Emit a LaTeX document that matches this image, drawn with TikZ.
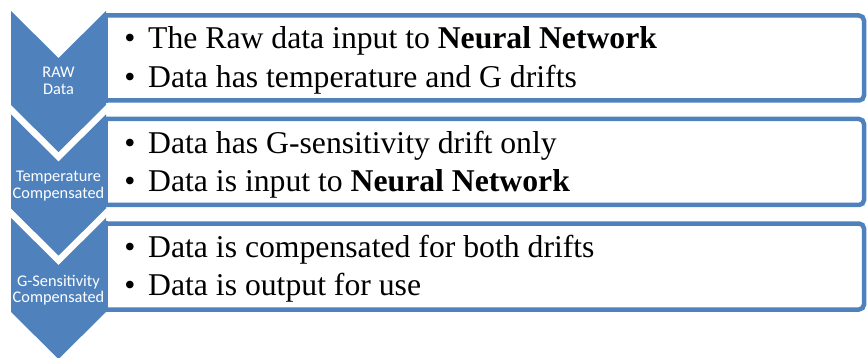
\documentclass[tikz,border=0pt]{standalone}
\usepackage{fontspec}
\newfontfamily\itemfont{Liberation Serif}
\newfontfamily\chevfont{Carlito}
\definecolor{accent}{HTML}{4F81BD}
\begin{document}
\begin{tikzpicture}[x=1pt,y=-1pt,
  chev/.style={fill=accent, draw=none},
  listbox/.style={draw=accent, line width=4.5pt, fill=white, rounded corners=5pt},
  listside/.style={draw=accent, line width=4.5pt},
  chevlabel/.style={font=\chevfont\fontsize{16.3}{18}\selectfont, text=white, inner sep=0pt, anchor=base},
  bul/.style={font=\itemfont\fontsize{31.7}{38}\selectfont, inner sep=0pt, anchor=base},
  itemtext/.style={font=\itemfont\fontsize{31.7}{38}\selectfont, inner sep=0pt, anchor=base west}]
\useasboundingbox (0,0) rectangle (867,358);

% list boxes
\draw[listbox] (106,100.5) -- (864,100.5) -- (864,15.5) -- (106,15.5);
\draw[listside] (106,13.25) -- (106,102.75);
\draw[listbox] (106,205) -- (864,205) -- (864,119) -- (106,119);
\draw[listside] (106,116.75) -- (106,207.25);
\draw[listbox] (106,309.5) -- (864,309.5) -- (864,223.5) -- (106,223.5);
\draw[listside] (106,221.25) -- (106,311.75);

% chevrons
\fill[chev] (11,11) -- (58.5,58) -- (106,11) -- (106,105) -- (58.5,152) -- (11,105) -- cycle;
\fill[chev] (11,114.5) -- (58.5,161.5) -- (106,114.5) -- (106,208.5) -- (58.5,255.5) -- (11,208.5) -- cycle;
\fill[chev] (11,218) -- (58.5,265) -- (106,218) -- (106,312) -- (58.5,359) -- (11,312) -- cycle;

% chevron labels
\node[chevlabel] (c1a) at (58.5,78) {RAW};
\node[chevlabel] (c1b) at (58.5,94.5) {Data};
\node[chevlabel] (c2a) at (58.5,182) {Temperature};
\node[chevlabel] (c2b) at (58.5,198.5) {Compensated};
\node[chevlabel] (c3a) at (58.5,286) {G-Sensitivity};
\node[chevlabel] (c3b) at (58.5,302.5) {Compensated};

% list items
\node[bul] (b1a) at (130,49) {\char"2022};
\node[itemtext] (t1a) at (148,49) {The Raw data input to \textbf{Neural Network}};
\node[bul] (b1b) at (130,88) {\char"2022};
\node[itemtext] (t1b) at (148,88) {Data has temperature and G drifts};
\node[bul] (b2a) at (130,153.5) {\char"2022};
\node[itemtext] (t2a) at (148,153.5) {Data has G-sensitivity drift only};
\node[bul] (b2b) at (130,192) {\char"2022};
\node[itemtext] (t2b) at (148,192) {Data is input to \textbf{Neural Network}};
\node[bul] (b3a) at (130,257) {\char"2022};
\node[itemtext] (t3a) at (148,257) {Data is compensated for both drifts};
\node[bul] (b3b) at (130,295) {\char"2022};
\node[itemtext] (t3b) at (148,295) {Data is output for use};
\end{tikzpicture}
\end{document}
